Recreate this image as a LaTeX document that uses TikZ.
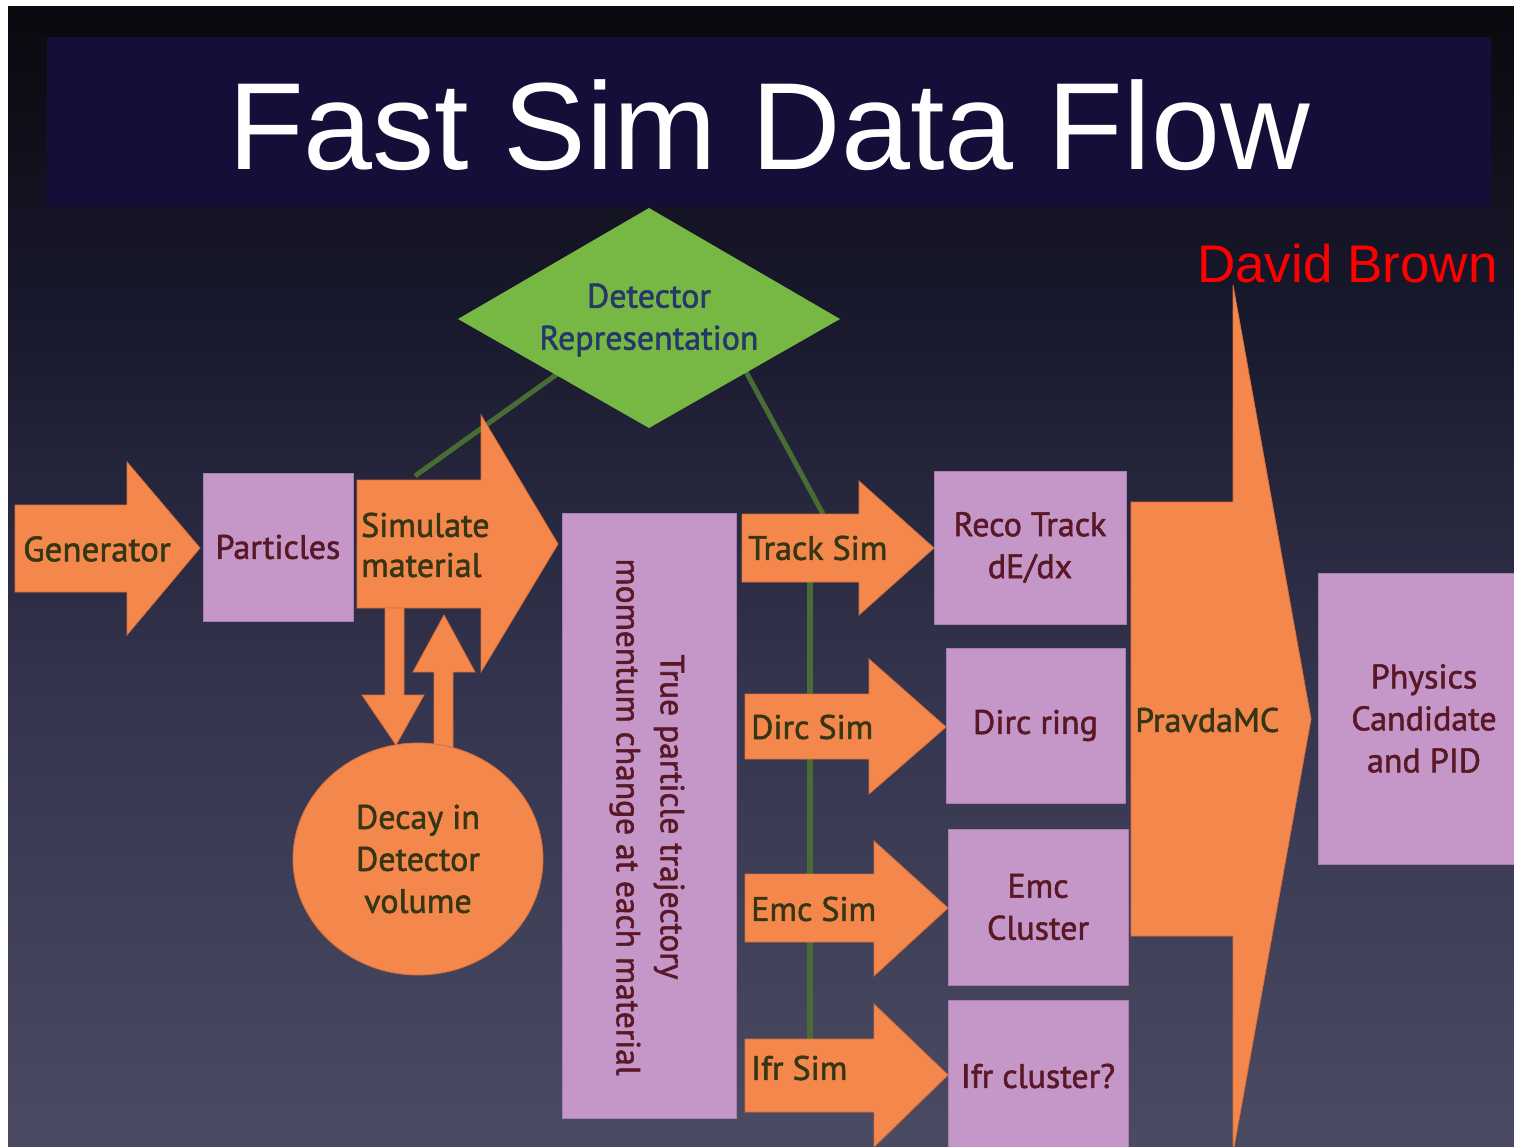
\documentclass[tikz,border=0pt]{standalone}
\usepackage{fontspec}
\setmainfont{PT Sans}
\newfontfamily\lblfont{PT Sans}[FakeBold=1.6]
\newfontfamily\titlefont{Liberation Sans}
\usetikzlibrary{shapes.geometric}
\definecolor{bgA}{RGB}{100,101,122}
\definecolor{bgB}{RGB}{80,81,104}
\definecolor{bgC}{RGB}{52,52,78}
\definecolor{bgD}{RGB}{24,24,44}
\definecolor{bgE}{RGB}{9,9,14}
\definecolor{bgF}{RGB}{6,6,6}
\definecolor{banner}{RGB}{22,14,57}
\definecolor{orng}{RGB}{244,136,76}
\definecolor{orngE}{RGB}{214,110,60}
\definecolor{lilac}{RGB}{196,151,200}
\definecolor{lilacE}{RGB}{170,125,175}
\definecolor{dgreen}{RGB}{118,184,67}
\definecolor{lgreen}{RGB}{72,108,52}
\definecolor{olive}{RGB}{54,54,20}
\definecolor{maroon}{RGB}{90,24,38}
\definecolor{navy}{RGB}{38,56,106}
\pgfdeclareverticalshading{slidebg}{100bp}{color(0bp)=(bgA); color(20bp)=(bgB); color(45bp)=(bgC); color(62bp)=(bgD); color(75bp)=(bgE); color(100bp)=(bgF)}
\tikzset{
  blockarrow/.style={fill=orng, draw=orngE, line width=0.8pt},
  box/.style={rectangle, fill=lilac, draw=lilacE, line width=0.8pt, inner sep=0pt, align=center, text=maroon, font=\lblfont\fontsize{34}{42}\selectfont},
  lbl/.style={inner sep=0pt, align=center, font=\lblfont\fontsize{34}{42}\selectfont},
  boxtext/.style={lbl, text=maroon},
  arrowtext/.style={lbl, text=olive, align=left, anchor=west},
  linker/.style={draw=lgreen, line width=5pt},
}
\begin{document}
\begin{tikzpicture}[x=1pt,y=-1pt]
\useasboundingbox (0,0) rectangle (1514,1147);
\clip (0,0) rectangle (1514,1147);
\fill[white] (0,0) rectangle (1514,1147);
% slide background
\fill[shading=slidebg] (8,7) rectangle (1514,1147);
% title banner
\fill[banner] (47,37) rectangle (1491,207);
\node[text=white, font=\titlefont\fontsize{124}{130}\selectfont, anchor=base, inner sep=0pt] (title) at (769,170) {Fast Sim Data Flow};
\node[text=red, font=\titlefont\fontsize{53}{60}\selectfont, anchor=base west, inner sep=0pt] (author) at (1197,283) {David Brown};

% green connector lines (behind shapes)
\coordinate (dl) at (560,372);
\coordinate (dr) at (745,370);
\coordinate (simtop) at (415,476);
\coordinate (tracktop) at (823,514);
\coordinate (vtop) at (810,580);
\coordinate (vbot) at (810,1040);
\draw[linker] (dl) -- (simtop);
\draw[linker] (dr) -- (tracktop);
\draw[linker, line width=6pt] (vtop) -- (vbot);

% diamond
\fill[dgreen] (649,208) -- (840,319) -- (649,428) -- (458,319) -- cycle;
\node[lbl, text=navy] (det) at (649,320) {Detector\\Representation};

% Generator arrow
\draw[blockarrow] (15,505) -- (127,505) -- (127,462) -- (200,548) -- (127,635) -- (127,592) -- (15,592) -- cycle;
\node[lbl, text=olive, font=\lblfont\fontsize{35}{42}\selectfont] (gen) at (97,549) {Generator};

% Particles box
\node[box, minimum width=150pt, minimum height=148pt] (part) at (278,547) {Particles};

% Simulate material arrow
\draw[blockarrow] (357,480) -- (481,480) -- (481,415) -- (558,544) -- (481,672) -- (481,608) -- (357,608) -- cycle;
\node[arrowtext, font=\lblfont\fontsize{34}{40}\selectfont] (sim) at (361,545) {Simulate\\material};

% down and up arrows between simulate and decay
\draw[blockarrow] (385,608) -- (404,608) -- (404,695) -- (424,695) -- (396,745) -- (362,695) -- (385,695) -- cycle;
\draw[blockarrow] (434,748) -- (434,672) -- (413,672) -- (444,615) -- (475,672) -- (453,672) -- (453,748) -- cycle;

% Decay circle
\node[ellipse, fill=orng, draw=orngE, line width=0.8pt, minimum width=250pt, minimum height=232pt, inner sep=0pt, align=center, text=olive, font=\lblfont\fontsize{34}{42}\selectfont] (decay) at (418,859) {Decay in\\Detector\\volume};

% big vertical box
\node[box, minimum width=174pt, minimum height=605pt] (traj) at (649,815.5) {};
\node[boxtext, rotate=-90, font=\lblfont\fontsize{33.5}{44}\selectfont] (trajtxt) at (647,817) {True particle trajectory\\momentum change at each material};

% Track Sim arrow
\draw[blockarrow] (742,514) -- (859,514) -- (859,481) -- (934,548) -- (859,615) -- (859,582) -- (742,582) -- cycle;
\node[arrowtext] (tracksim) at (748,548) {Track Sim};
% Dirc Sim arrow
\draw[blockarrow] (745,694) -- (869,694) -- (869,659) -- (946,727) -- (869,794) -- (869,759) -- (745,759) -- cycle;
\node[arrowtext] (dircsim) at (751,727) {Dirc Sim};
% Emc Sim arrow
\draw[blockarrow] (745,874) -- (874,874) -- (874,841) -- (948,908) -- (874,976) -- (874,942) -- (745,942) -- cycle;
\node[arrowtext] (emcsim) at (751,909) {Emc Sim};
% Ifr Sim arrow
\draw[blockarrow] (745,1039) -- (874,1039) -- (874,1004) -- (948,1075) -- (874,1147) -- (874,1112) -- (745,1112) -- cycle;
\node[arrowtext] (ifrsim) at (751,1068) {Ifr Sim};

% detector output boxes
\node[box, minimum width=192pt, minimum height=153pt] (reco) at (1030,547.5) {Reco Track\\dE/dx};
\node[box, minimum width=179pt, minimum height=155pt] (dirc) at (1035.5,725.5) {Dirc ring};
\node[box, minimum width=180pt, minimum height=156pt] (emc) at (1038,907) {Emc\\Cluster};
\node[box, minimum width=180pt, minimum height=152pt] (ifr) at (1038,1076) {Ifr cluster?};

% PravdaMC arrow
\draw[blockarrow] (1131,502) -- (1233,502) -- (1233,285) -- (1311,719) -- (1233,1153) -- (1233,936) -- (1131,936) -- cycle;
\node[arrowtext] (pravda) at (1135,720) {PravdaMC};

% Physics box
\node[box, minimum width=212pt, minimum height=291pt] (phys) at (1424,718.5) {Physics\\Candidate\\and PID};
\end{tikzpicture}
\end{document}
